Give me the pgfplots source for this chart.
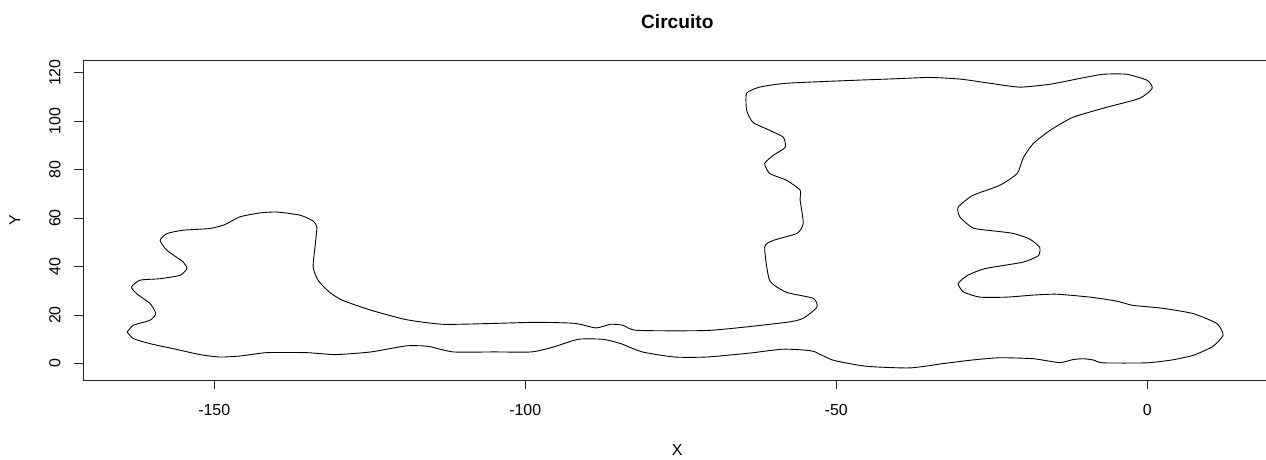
\documentclass[border=0pt]{standalone}
\usepackage{pgfplots}
\pgfplotsset{compat=1.18}
\usepackage{fontspec}
\setmainfont{Liberation Sans}

\begin{document}
\begin{tikzpicture}
\begin{axis}[
  scale only axis,
  width=1188.6bp, height=319.6bp,
  xmin=-171.1, xmax=20, ymin=-6.9, ymax=124.9,
  xtick={-150,-100,-50,0},
  ytick={0,20,40,60,80,100,120},
  xtick pos=left, ytick pos=left,
  tick align=outside,
  major tick length=9bp,
  axis line style={black!85, line width=0.8bp},
  every tick/.style={black!85, line width=0.8bp},
  /pgf/number format/assume math mode=true,
  tick label style={font=\fontsize{16}{19}\selectfont},
  xticklabel style={anchor=center, yshift=-21bp},
  yticklabel style={rotate=90, anchor=center, yshift=19bp},
  xlabel={X}, ylabel={Y},
  label style={font=\fontsize{16}{19}\selectfont},
  xlabel style={at={(axis description cs:0.5,0)}, anchor=center, yshift=-70bp},
  ylabel style={at={(axis description cs:0,0.5)}, anchor=center, yshift=68bp},
  title={Circuito},
  title style={at={(axis description cs:0.5,1)}, anchor=center, yshift=32.7bp,
    font=\bfseries\fontsize{19.2}{22}\selectfont},
]
\addplot[black, line width=0.9bp, smooth, tension=0.35] coordinates {
(-164.0,13.0) (-163.0,10.3) (-160.3,8.2) (-156.0,5.8) (-152.3,3.7) (-149.1,2.7)
(-145.9,3.1) (-141.6,4.5) (-135.1,4.5) (-130.5,3.7) (-124.8,4.8) (-119.1,7.3)
(-115.6,7.1) (-111.6,4.8) (-105.0,4.8) (-99.0,4.8) (-95.5,6.8) (-91.5,10.0)
(-87.5,10.0) (-84.6,8.2) (-81.2,4.8) (-76.0,2.7) (-70.8,2.7) (-64.0,4.3)
(-58.8,5.9) (-55.9,5.7) (-53.6,5.0) (-50.5,1.4) (-45.2,-1.1) (-38.2,-1.8)
(-32.8,0.0) (-28.0,1.5) (-23.7,2.4) (-18.3,2.0) (-14.1,0.4) (-12.0,1.6)
(-10.3,2.0) (-8.7,1.5) (-7.1,0.3) (-0.1,0.3) (4.0,1.5) (7.4,3.4)
(10.5,7.0) (12.2,11.7) (11.2,16.5) (7.4,20.6) (2.5,22.8) (-2.3,24.0)
(-5.0,25.8) (-9.2,27.4) (-14.5,28.6) (-18.0,28.3) (-22.6,27.4) (-26.9,27.4)
(-29.5,29.5) (-30.4,33.0) (-28.8,36.5) (-26.0,39.2) (-20.0,41.8) (-17.5,44.5)
(-17.3,48.0) (-19.0,51.5) (-21.6,53.7) (-25.0,54.8) (-28.0,55.9) (-30.1,60.4)
(-30.4,64.5) (-28.0,69.4) (-23.7,73.5) (-20.9,78.4) (-19.9,85.0) (-18.3,90.8)
(-15.6,96.2) (-11.9,101.6) (-6.5,105.7) (-1.2,109.4) (0.8,113.5) (0.0,116.8)
(-3.3,119.3) (-7.1,119.3) (-11.0,117.5) (-15.6,115.2) (-20.5,114.0) (-25.3,115.6)
(-30.0,117.3) (-34.9,118.0) (-41.0,117.4) (-47.3,116.8) (-58.0,115.6) (-62.3,114.0)
(-64.4,111.5) (-64.4,104.5) (-63.4,99.5) (-60.7,96.2) (-58.5,93.3) (-58.2,89.2)
(-60.1,85.9) (-61.5,82.5) (-60.7,78.4) (-58.0,75.6) (-55.8,71.5) (-55.8,67.4)
(-55.3,57.8) (-56.3,53.7) (-60.1,50.8) (-61.5,48.0) (-60.7,34.3) (-58.0,29.4)
(-53.7,26.9) (-53.1,23.3) (-55.3,18.7) (-58.0,17.0) (-70.3,13.7) (-82.0,13.7)
(-84.3,15.8) (-86.3,16.2) (-88.6,14.7) (-92.1,16.6) (-98.4,17.0) (-105.9,16.5)
(-113.3,16.2) (-119.1,18.1) (-124.8,22.0) (-129.4,26.1) (-131.5,29.5) (-133.3,34.3)
(-134.1,39.8) (-133.8,48.1) (-133.5,56.3) (-134.1,58.8) (-136.2,61.2) (-140.0,62.5)
(-142.7,62.1) (-145.9,60.5) (-148.3,57.3) (-150.7,55.7) (-155.0,55.0) (-157.6,53.6)
(-158.7,50.8) (-157.6,46.7) (-155.0,41.9) (-154.4,39.2) (-155.5,36.4) (-158.7,35.0)
(-161.9,34.4) (-163.3,31.6) (-162.5,28.9) (-160.3,24.7) (-159.4,20.6) (-160.3,17.9)
(-163.0,15.8) (-164.0,13.0)
};
\coordinate (bl) at (rel axis cs:0,0);
\coordinate (tr) at (rel axis cs:1,1);
\end{axis}
\pgfresetboundingbox
\path[use as bounding box] ([shift={(-83bp,-79bp)}]bl) rectangle ([shift={(-5.6bp,60.7bp)}]tr);
\end{tikzpicture}
\end{document}
